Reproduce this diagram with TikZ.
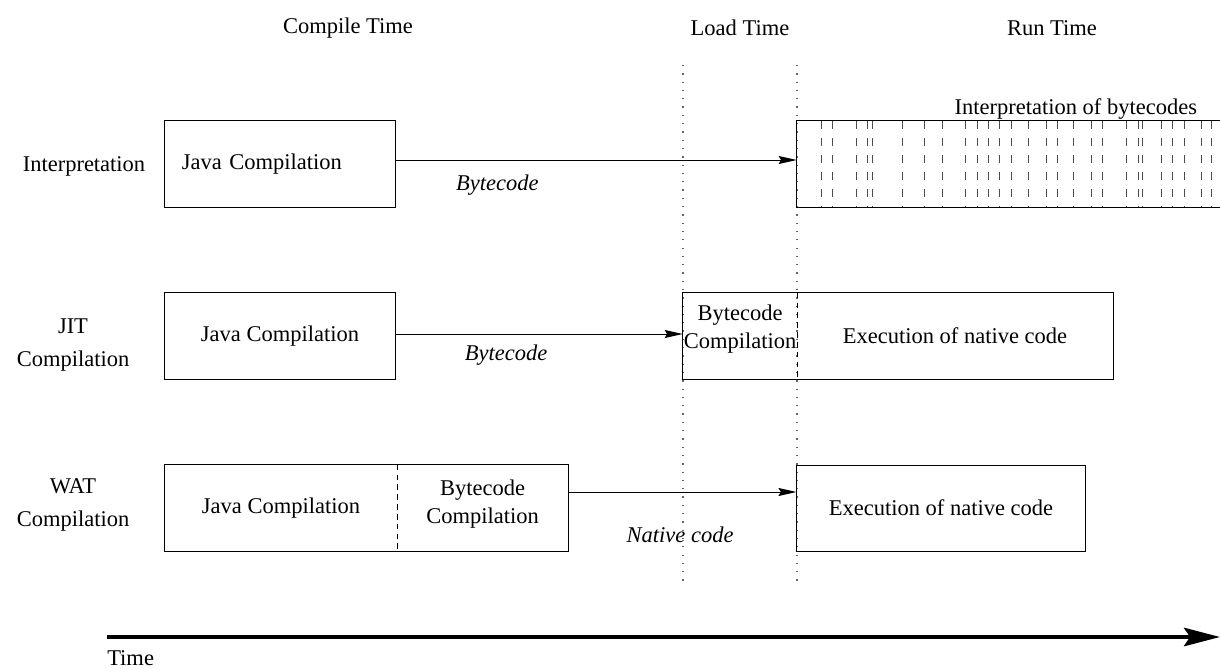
\documentclass[tikz,border=0pt]{standalone}
\usepackage{fontspec}
\setmainfont{Liberation Serif}
\usetikzlibrary{arrows.meta}

\tikzset{
    txt/.style={font=\fontsize{16}{20}\selectfont},
    phase/.style={txt, draw, line width=0.7pt, minimum height=2.15cm, inner sep=0pt},
    slot/.style={txt, minimum height=2.15cm, inner sep=0pt, align=center},
    rowlbl/.style={txt, align=center},
    data/.style={font=\fontsize{16}{20}\selectfont\itshape},
    flow/.style={-{Stealth[length=4.5mm,width=2mm,inset=0.6mm]}, line width=0.7pt},
    epoch/.style={gray!80!black, line width=0.9pt, dash pattern=on 0.9pt off 5pt},
    split/.style={line width=0.7pt, dash pattern=on 4pt off 3pt},
    bctick/.style={gray!60!black, line width=0.6pt, dash pattern=on 5.7pt off 6.4pt}
}

\begin{document}
\begin{tikzpicture}[x=0.025cm, y=-0.025cm]
    \useasboundingbox (0,0) rectangle (1220,669);

    % 時間区分
    \node[txt] (hcomp) at (348,28) {Compile Time};
    \node[txt] (hload) at (740,28) {Load Time};
    \node[txt] (hrun)  at (1052,28) {Run Time};
    \draw[epoch] (683,65) -- (683,582);
    \draw[epoch] (797,65) -- (797,582);

    % インタプリタ
    \node[rowlbl] (linterp) at (84,166) {Interpretation};
    \node[phase, minimum width=5.75cm, text width=4.9cm, align=left] (ijava) at (280,164) {Java Compilation};
    \node[slot, minimum width=10.575cm] (interp) at (1008.5,164) {};
    \foreach \x in {821,832,856,867,872,902,924,942,965,977,988,999,1011,1028,
                    1046,1057,1073,1091,1102,1126,1138,1142,1161,1172,1184,1201,1211}
        \draw[bctick] (\x,121) -- (\x,207);
    \draw[line width=0.7pt] (interp.north east) -- (interp.north west) -- (interp.south west) -- (interp.south east);
    \node[txt, anchor=south east] (interpt) at (1202,124) {Interpretation of bytecodes};
    \draw[flow] ([yshift=0.1cm]ijava.east) -- ([yshift=0.1cm]interp.west)
        node[data, pos=0.254, yshift=-0.62cm] (ibc) {Bytecode};

    % JIT
    \node[rowlbl] (ljit) at (73,345) {JIT\\[4pt]Compilation};
    \node[phase, minimum width=5.75cm] (jjava) at (280,336) {Java Compilation};
    \node[slot, minimum width=2.85cm] (jbc) at (740,336) {};
    \node[slot, minimum width=7.9cm] (jexec) at (955,336) {Execution of native code};
    \node[rowlbl] (jbct) at ([yshift=0.17cm]jbc.center) {Bytecode\\Compilation};
    \draw[line width=0.7pt] (jbc.north west) rectangle (jexec.south east);
    \draw[split] (jbc.north east) -- (jbc.south east);
    \draw[flow] ([yshift=0.05cm]jjava.east) -- ([yshift=0.05cm]jbc.west)
        node[data, pos=0.385, yshift=-0.53cm] (jbcl) {Bytecode};

    % WAT
    \node[rowlbl] (lwat) at (73,505) {WAT\\[4pt]Compilation};
    \node[slot, minimum width=5.8cm] (wjava) at (281,508) {Java Compilation};
    \node[slot, minimum width=4.275cm] (wbc) at (482.5,508) {};
    \node[rowlbl] (wbct) at ([yshift=0.1cm]wbc.center) {Bytecode\\Compilation};
    \draw[line width=0.7pt] (wjava.north west) rectangle (wbc.south east);
    \draw[split] (wjava.north east) -- (wjava.south east);
    \node[phase, minimum width=7.2cm] (wexec) at (941,508) {Execution of native code};
    \draw[flow] ([yshift=0.4cm]wbc.east) -- ([yshift=0.4cm]wexec.west)
        node[data, pos=0.49, yshift=-1.07cm] (wnc) {Native code};

    % 時間軸
    \coordinate (t0) at (107,637);
    \coordinate (t1) at (1220,637);
    \draw[line width=2.8pt, -{Stealth[length=9mm,width=4.6mm,inset=1.5mm]}] (t0) -- (t1);
    \node[txt, anchor=north west, inner sep=0pt] (ltime) at (107,650) {Time};
\end{tikzpicture}
\end{document}
